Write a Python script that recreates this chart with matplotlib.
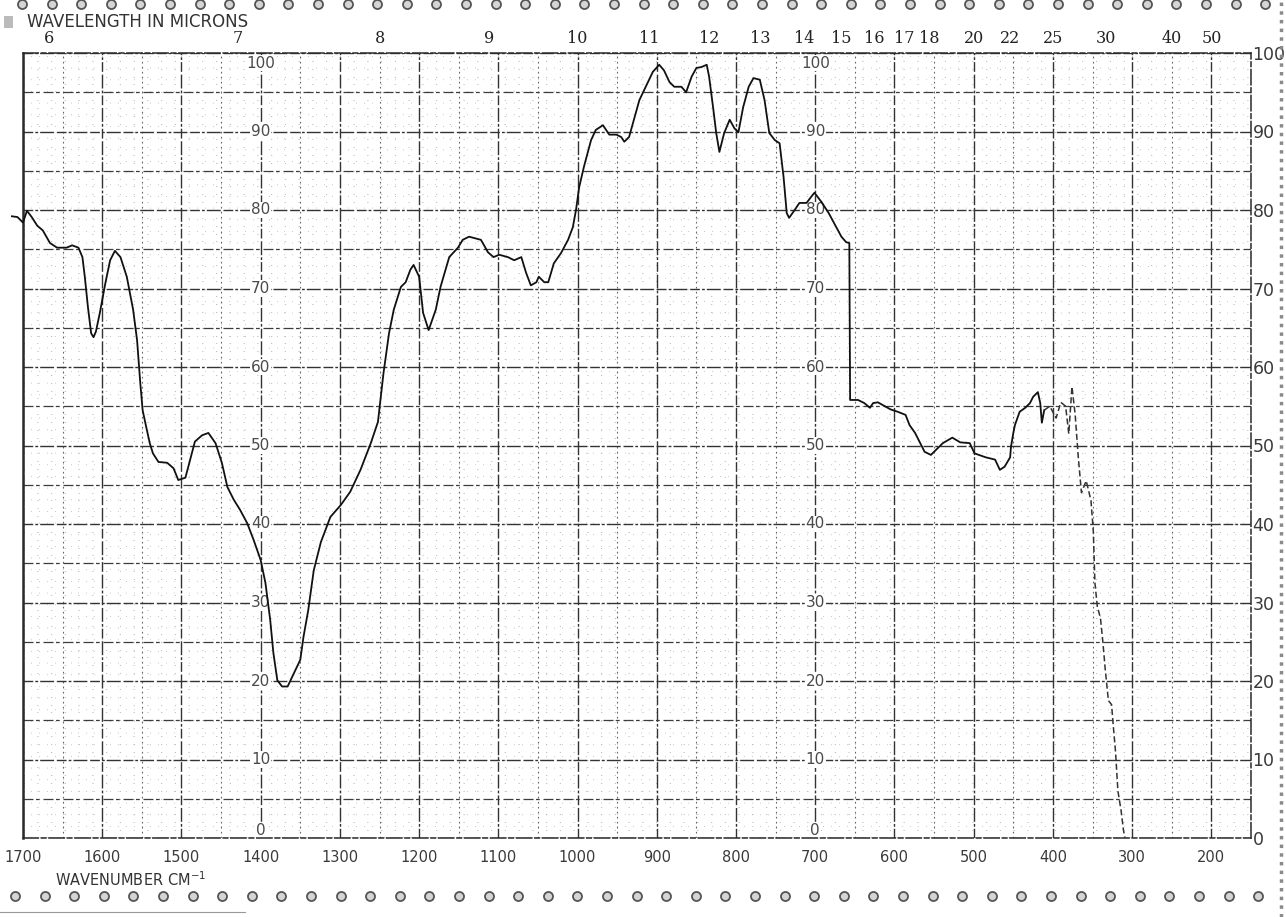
import numpy as np
import matplotlib.pyplot as plt
from matplotlib.lines import Line2D
from matplotlib.patches import Rectangle

# IR trace: wavenumber (cm-1) vs. percent transmittance
wavenumber = [1714, 1707, 1700, 1695, 1689, 1682, 1675, 1666, 1657, 1645, 1638, 1630,
              1625, 1622, 1618, 1614, 1611, 1608, 1603, 1596, 1590, 1584, 1577, 1569,
              1561, 1556, 1552, 1549, 1545, 1540, 1536, 1529, 1518, 1510, 1504, 1495,
              1489, 1483, 1474, 1466, 1457, 1449, 1442, 1434, 1426, 1417, 1409, 1400,
              1394, 1388, 1384, 1379, 1373, 1366, 1359, 1350, 1346, 1340, 1333, 1324,
              1312, 1299, 1287, 1274, 1261, 1252, 1245, 1238, 1232, 1223, 1217, 1211,
              1207, 1200, 1195, 1188, 1179, 1173, 1162, 1151, 1145, 1137, 1122, 1113,
              1106, 1099, 1088, 1080, 1071, 1065, 1059, 1052, 1049, 1042, 1037, 1030,
              1021, 1012, 1006, 1002, 998, 992, 983, 977, 968, 960, 951, 945,
              941, 935, 930, 922, 913, 905, 897, 891, 884, 878, 869, 863,
              856, 850, 844, 837, 834, 829, 825, 821, 815, 808, 802, 797,
              791, 784, 778, 770, 764, 758, 751, 745, 740, 736, 733, 726,
              720, 711, 705, 701, 692, 683, 676, 667, 661, 657, 656, 646,
              638, 631, 627, 621, 612, 605, 596, 586, 581, 574, 568, 562,
              554, 548, 539, 527, 517, 505, 499, 485, 473, 467, 461, 454,
              453, 450, 448, 442, 435, 429, 425, 419, 416, 414, 411]
transmittance = [79.2, 79.1, 78.4, 79.9, 79.1, 78.0, 77.4, 75.8, 75.2, 75.2, 75.5, 75.2,
                 74.0, 71.5, 67.6, 64.3, 63.8, 64.5, 66.9, 70.7, 73.6, 74.8, 74.0, 71.5,
                 67.3, 63.4, 58.0, 54.5, 52.6, 50.3, 49.0, 47.9, 47.8, 47.1, 45.6, 45.9,
                 48.2, 50.5, 51.3, 51.6, 50.3, 47.8, 44.7, 43.1, 41.8, 40.1, 38.0, 35.4,
                 32.5, 27.8, 23.6, 20.1, 19.3, 19.3, 20.8, 22.7, 25.6, 29.0, 34.1, 37.7,
                 40.9, 42.4, 44.1, 46.9, 50.3, 53.0, 59.2, 64.3, 67.3, 70.2, 70.8, 72.4,
                 73.0, 71.5, 66.9, 64.7, 67.3, 70.2, 74.0, 75.2, 76.2, 76.6, 76.2, 74.6,
                 74.0, 74.3, 74.0, 73.6, 74.0, 72.0, 70.4, 70.8, 71.5, 70.8, 70.8, 73.2,
                 74.5, 76.2, 77.8, 80.0, 82.9, 85.5, 88.9, 90.2, 90.8, 89.6, 89.6, 89.3,
                 88.7, 89.3, 91.1, 94.0, 95.9, 97.6, 98.5, 97.8, 96.3, 95.7, 95.7, 95.0,
                 97.0, 98.1, 98.2, 98.5, 97.0, 93.1, 89.8, 87.4, 89.8, 91.5, 90.4, 89.9,
                 93.1, 95.7, 96.8, 96.6, 94.0, 89.8, 88.9, 88.5, 84.2, 79.6, 79.0, 80.0,
                 80.9, 80.9, 81.7, 82.2, 81.0, 79.6, 78.3, 76.6, 75.9, 75.8, 55.8, 55.8,
                 55.4, 54.8, 55.4, 55.5, 55.0, 54.6, 54.3, 53.9, 52.6, 51.6, 50.4, 49.2,
                 48.8, 49.4, 50.3, 51.0, 50.4, 50.3, 49.0, 48.5, 48.2, 46.9, 47.3, 48.5,
                 49.8, 51.6, 52.6, 54.3, 54.8, 55.4, 56.2, 56.8, 55.4, 52.9, 54.5]

# broken, faint end of the trace down to zero
tail_wavenumber = [411, 404, 396, 390, 384, 380, 376, 372, 368, 364, 358, 352, 349,
                   347, 344, 340, 337, 334, 330, 326, 324, 321, 318, 314, 311, 309]
tail_transmittance = [54.5, 55.0, 53.5, 55.5, 55.0, 51.5, 57.5, 54.0, 48.5, 44.0, 45.5,
                      43.0, 39.0, 32.5, 29.5, 28.0, 25.0, 21.5, 17.5, 17.0, 14.5, 11.0,
                      6.0, 3.5, 1.0, 0.0]

wn_ticks = list(range(1700, 199, -100))
wn_minor = list(range(1650, 149, -100))
micron_ticks = [6, 7, 8, 9, 10, 11, 12, 13, 14, 15, 16, 17, 18, 20, 22, 25, 30, 40, 50]
pct_ticks = list(range(0, 101, 10))
pct_minor = list(range(5, 100, 10))
label_columns = [1400, 700]

W, H = 1286, 917
fig = plt.figure(figsize=(W / 100, H / 100), dpi=100)
ax = fig.add_axes([23 / W, 79 / H, 1228 / W, 785 / H])
ax.set_xlim(1700, 150)
ax.set_ylim(0, 100)

# chart paper: sparse speckle, then 5 % / 50 cm-1 lines, then 10 % / 100 cm-1 lines
ax.vlines(np.arange(1690, 150, -10), 0, 100, colors='#b5b5b5', lw=0.6,
          linestyles=(0, (1, 13)), zorder=0)
ax.hlines(np.arange(1, 100, 1), 1700, 150, colors='#b5b5b5', lw=0.6,
          linestyles=(0, (1.5, 15)), zorder=0)
ax.set_xticks(wn_ticks)
ax.set_xticks(wn_minor, minor=True)
ax.set_yticks(pct_ticks)
ax.set_yticks(pct_minor, minor=True)
ax.grid(which='major', color='#333333', lw=1.0, ls=(0, (7, 1.5, 2, 1.5, 10, 2)))
ax.grid(which='minor', axis='y', color='#3c3c3c', lw=0.9, ls=(0, (8, 2, 3, 3)))
ax.grid(which='minor', axis='x', color='#666666', lw=0.8, ls=(0, (1.5, 3)))
for side, spine in ax.spines.items():
    spine.set_color('#2a2a2a')
    spine.set_linewidth(1.1)
    if side != 'left':
        spine.set_linestyle((0, (10, 2, 3, 2)))
ax.spines['left'].set_linewidth(1.8)

ax.set_xticklabels([str(v) for v in wn_ticks])
ax.tick_params(axis='x', which='both', length=0, pad=9, labelsize=10.5,
               labelcolor='#3a3a3a')
ax.yaxis.tick_right()
ax.set_yticklabels([str(v) for v in pct_ticks])
ax.tick_params(axis='y', which='both', length=0, pad=1, labelsize=12.5,
               labelcolor='#3a3a3a')

# percent scale printed inside the chart
for col in label_columns:
    for v in pct_ticks:
        yv = 98.7 if v == 100 else (1.0 if v == 0 else v)
        ax.text(col, yv, str(v), ha='center', va='center', fontsize=11,
                color='#4a4a4a', zorder=2,
                bbox=dict(boxstyle='square,pad=0.05', fc='white', ec='none'))

# wavelength scale along the top
sec = ax.secondary_xaxis('top', functions=(lambda x: 1e4 / x, lambda x: 1e4 / x))
sec.set_xticks(micron_ticks)
sec.set_xticklabels([str(v) for v in micron_ticks], family='DejaVu Serif',
                    fontsize=11.5, color='#222222')
sec.tick_params(length=0, pad=4)
sec.spines['top'].set_visible(False)

ax.plot(wavenumber, transmittance, color='#111111', lw=1.3, zorder=4, clip_on=False)
ax.plot(tail_wavenumber, tail_transmittance, color='#333333', lw=1.1,
        ls=(0, (4, 2)), zorder=4)

fig.text(27 / W, 1 - 22 / H, 'WAVELENGTH IN MICRONS', fontsize=12, color='#333333',
         va='center', ha='left')
fig.add_artist(Rectangle((4 / W, 1 - 28 / H), 9 / W, 12 / H, fc='#bbbbbb', ec='none',
                         transform=fig.transFigure))
fig.text(55 / W, 1 - 880 / H, 'WAVENUMBER CM$^{-1}$', fontsize=10.5, color='#333333',
         va='center', ha='left')

# sprocket holes of the chart paper
top_x = np.arange(22, 1270, 29.6)
bot_x = np.arange(15, 1265, 29.6)
fig.add_artist(Line2D(top_x / W, np.full(len(top_x), 1 - 4 / H), ls='none', marker='o',
                      ms=6.5, mfc='#d5d5d5', mec='#555555', mew=1.3,
                      transform=fig.transFigure))
fig.add_artist(Line2D(bot_x / W, np.full(len(bot_x), 1 - 896 / H), ls='none', marker='o',
                      ms=6.5, mfc='#d5d5d5', mec='#555555', mew=1.3,
                      transform=fig.transFigure))
fig.add_artist(Line2D([0, 245 / W], [1 - 912 / H] * 2, color='#999999', lw=0.8,
                      transform=fig.transFigure))
fig.add_artist(Line2D([1281 / W] * 2, [0, 1], color='#8a8a8a', lw=2.5, ls=(0, (1, 1.5)),
                      transform=fig.transFigure))

fig.savefig('out.png', dpi=100, facecolor='white')
